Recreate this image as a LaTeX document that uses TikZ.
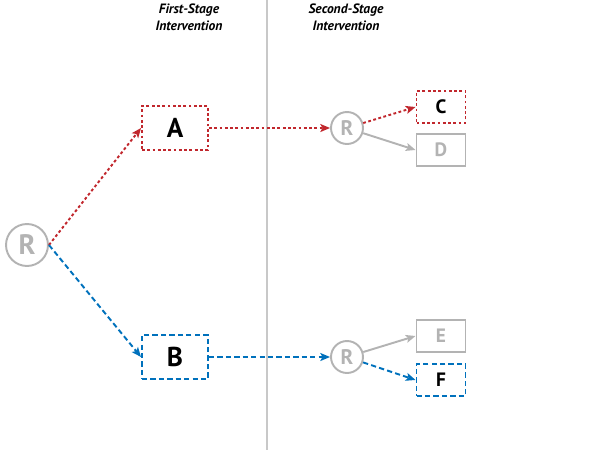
\documentclass[tikz,border=0pt]{standalone}
\usepackage{fontspec}
\setmainfont{PT Sans}
\usetikzlibrary{arrows.meta,positioning}
\definecolor{redline}{HTML}{C1272D}
\definecolor{blueline}{HTML}{0071BC}
\definecolor{greyline}{HTML}{B3B3B3}
\definecolor{divider}{HTML}{C8C8C8}
\begin{document}
\begin{tikzpicture}[x=0.02cm, y=-0.02cm,
  rnode/.style={circle, draw=greyline, line width=1.1pt, text=greyline, inner sep=0pt},
  bigbox/.style={minimum width=1.32cm, minimum height=0.88cm, line width=1.1pt, font=\fontsize{15.5}{15.5}\selectfont\bfseries},
  smallbox/.style={minimum width=0.98cm, minimum height=0.64cm, line width=1.1pt, font=\fontsize{11}{11}\selectfont\bfseries},
  reddots/.style={draw=redline, dash pattern=on 1.6pt off 1.4pt},
  bluedash/.style={draw=blueline, dash pattern=on 3pt off 1.8pt},
  greysolid/.style={draw=greyline, text=greyline},
  tip/.style={-{Stealth[length=5.5pt, width=4.5pt, inset=1.2pt]}, line width=1.1pt},
  heading/.style={align=center, font=\fontsize{7.7}{9.7}\selectfont\bfseries\itshape}
]
%\draw [help lines, step=50](0,0) grid (600,450);
\useasboundingbox (0,0) rectangle (600,450);

\draw [divider, line width=0.8pt] (267,0) -- (267,450);
\node [heading] (first) at (189,17) {First-Stage\\Intervention};
\node [heading] (second) at (346,17) {Second-Stage\\Intervention};

\node [rnode, minimum size=0.84cm, font=\fontsize{16}{16}\selectfont\bfseries] (R0) at (27,245) {R};
\node [rnode, minimum size=0.64cm, font=\fontsize{12}{12}\selectfont\bfseries] (R1) at (347,128) {R};
\node [rnode, minimum size=0.64cm, font=\fontsize{12}{12}\selectfont\bfseries] (R2) at (347,357) {R};

\node [bigbox, reddots] (A) at (175,128) {A};
\node [bigbox, bluedash] (B) at (175,357) {B};
\node [smallbox, reddots] (C) at (441,107) {C};
\node [smallbox, draw, greysolid] (D) at (441,150) {D};
\node [smallbox, draw, greysolid] (E) at (441,336) {E};
\node [smallbox, bluedash] (F) at (441,380) {F};

\draw [tip, reddots, redline] (R0.east) -- (A.west);
\draw [tip, bluedash, blueline] (R0.east) -- (B.west);
\draw [tip, reddots, redline] (A) -- (R1);
\draw [tip, bluedash, blueline] (B) -- (R2);
\draw [tip, reddots, redline] (R1) -- (C.west);
\draw [tip, greysolid] (R1) -- (D.west);
\draw [tip, greysolid] (R2) -- (E.west);
\draw [tip, bluedash, blueline] (R2) -- (F.west);
\end{tikzpicture}
\end{document}
